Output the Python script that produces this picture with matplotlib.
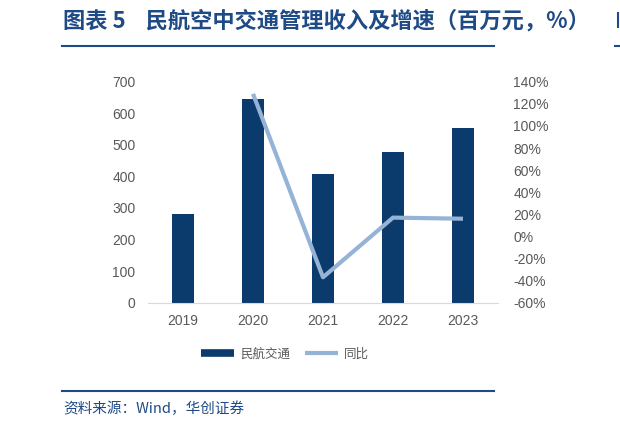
import matplotlib.pyplot as plt
from matplotlib.lines import Line2D
from matplotlib.ticker import FuncFormatter

plt.rcParams['font.family'] = ['Liberation Sans', 'Noto Sans CJK SC', 'DejaVu Sans']

years = ['2019', '2020', '2021', '2022', '2023']
revenue = [280, 644, 407, 477, 552]
yoy_years = ['2020', '2021', '2022', '2023']
yoy = [129, -37, 17, 16]

bar_color = '#0B3A6C'
line_color = '#95B3D7'
text_blue = '#1E4A86'
tick_gray = '#595959'

fig = plt.figure(figsize=(6.2, 4.29), dpi=100)
ax = fig.add_axes([148 / 620, 126.3 / 429, 350 / 620, 221 / 429])
ax2 = ax.twinx()

x = range(len(years))
ax.bar(x, revenue, width=0.31, color=bar_color, zorder=2)
ax.set_xlim(-0.5, 4.5)
ax.set_ylim(0, 700)
ax.set_yticks(range(0, 701, 100))
ax.set_xticks(list(x))
ax.set_xticklabels(years)

xl = [years.index(y) for y in yoy_years]
ax2.plot(xl, yoy, color=line_color, lw=3, solid_capstyle='butt', zorder=3)
ax2.set_ylim(-60, 140)
ax2.set_yticks(range(-60, 141, 20))
ax2.yaxis.set_major_formatter(FuncFormatter(lambda v, p: f'{v:.0f}%'))

for a in (ax, ax2):
    for s in a.spines.values():
        s.set_visible(False)
    a.tick_params(length=0, labelsize=10, colors=tick_gray)
ax.spines['bottom'].set_visible(True)
ax.spines['bottom'].set_color('#D9D9D9')
ax.tick_params(axis='x', pad=8)
ax.tick_params(axis='y', pad=9)
ax2.tick_params(axis='y', pad=11)

handles = [Line2D([], [], color=bar_color, lw=5.5, solid_capstyle='butt'),
           Line2D([], [], color=line_color, lw=3, solid_capstyle='butt')]
fig.legend(handles, ['民航交通', '同比'], loc='center', bbox_to_anchor=(0.46, 0.175),
           ncol=2, frameon=False, handlelength=2.6, columnspacing=1.2, handletextpad=0.5,
           prop={'family': ['Noto Sans CJK SC'], 'size': 9}, labelcolor=tick_gray)

# title, rules and source
fig.text(63 / 620, 1 - 21 / 429, '图表 5    民航空中交通管理收入及增速（百万元，%）',
         fontsize=16, fontweight='bold', color=text_blue, va='center',
         family=['Noto Sans CJK SC', 'DejaVu Sans'])
fig.add_artist(Line2D([62 / 620, 494 / 620], [1 - 46 / 429] * 2, color=text_blue, lw=1.5))
fig.add_artist(Line2D([615 / 620, 1], [1 - 46 / 429] * 2, color=text_blue, lw=1.5))
fig.add_artist(Line2D([618 / 620] * 2, [1 - 13 / 429, 1 - 27 / 429], color=text_blue, lw=1.5))
fig.add_artist(Line2D([62 / 620, 494 / 620], [1 - 391 / 429] * 2, color=text_blue, lw=1.5))
fig.text(63 / 620, 1 - 409 / 429, '资料来源：Wind，华创证券', fontsize=10.5, style='italic',
         color=text_blue, va='center', family=['Noto Sans CJK SC', 'DejaVu Sans'])

fig.savefig('out.png', dpi=100)
